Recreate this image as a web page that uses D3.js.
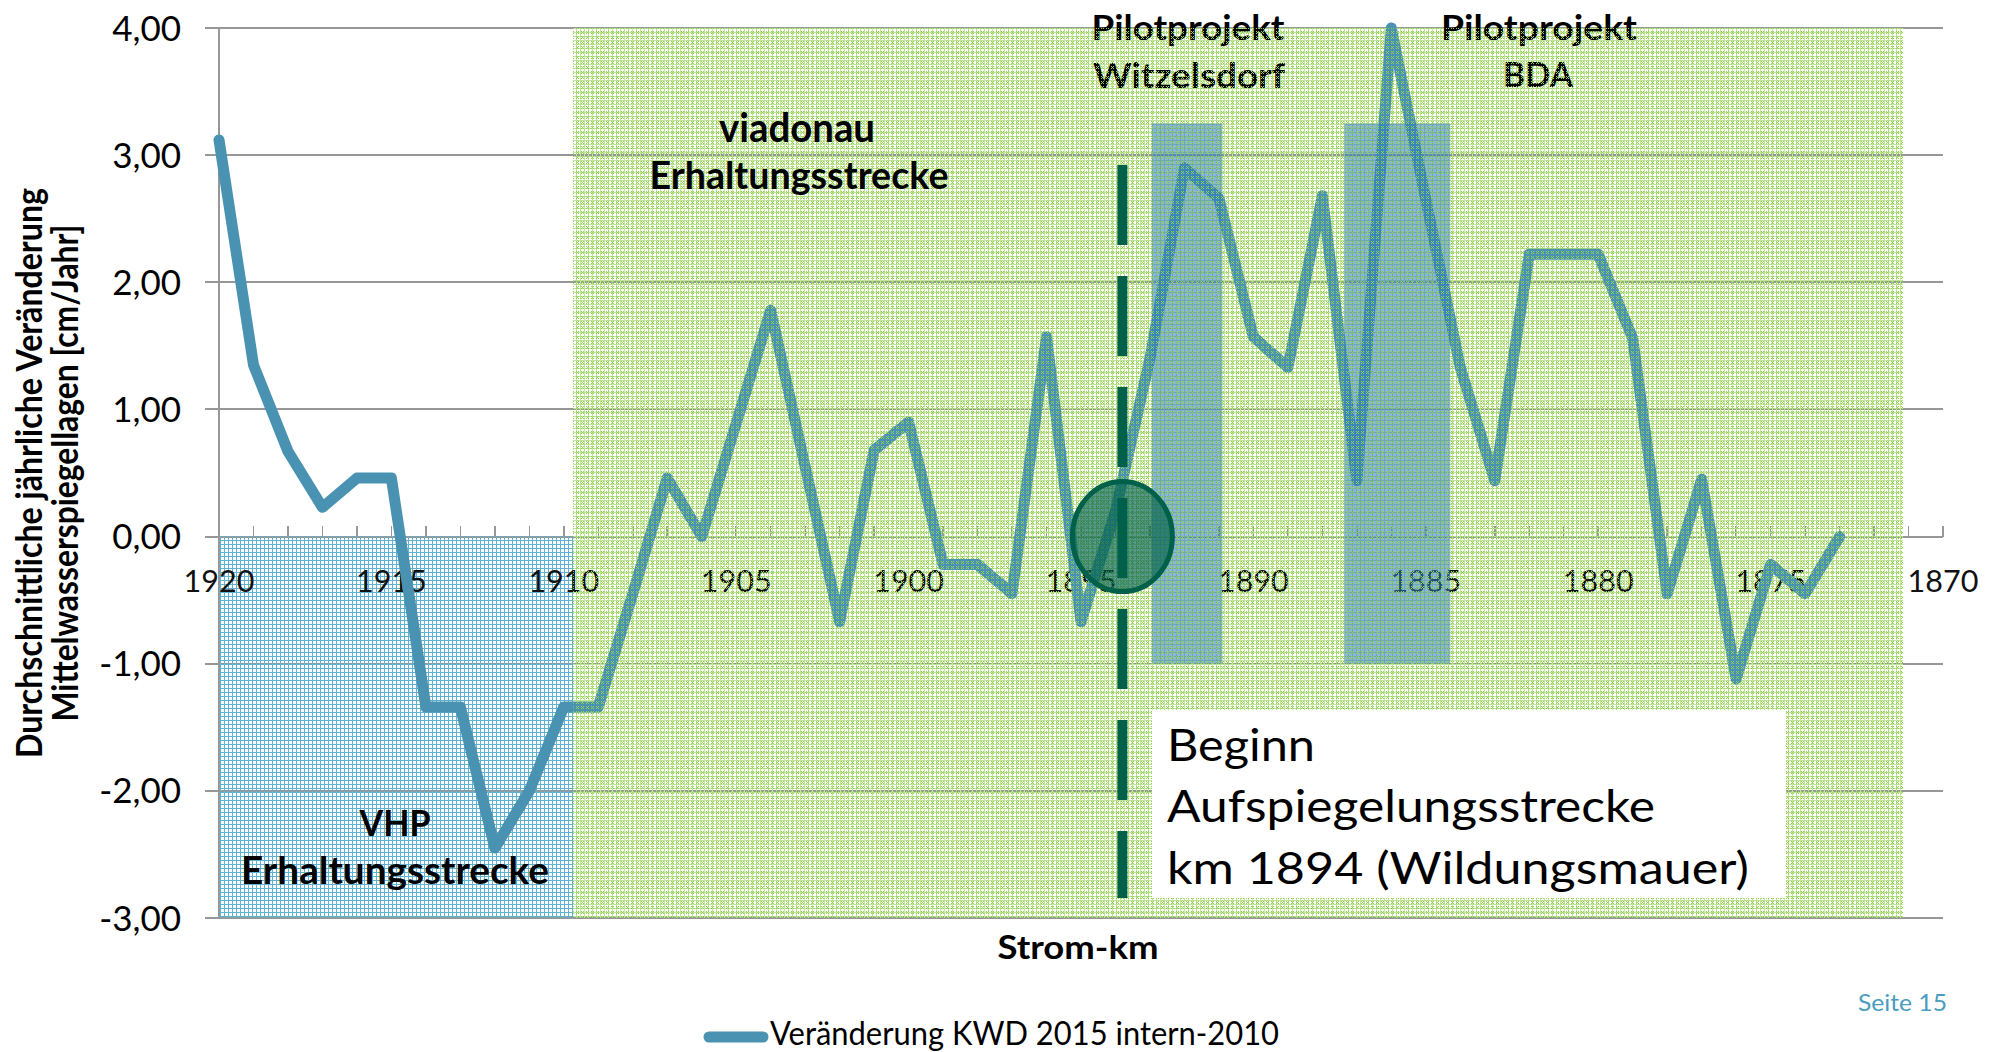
<!DOCTYPE html>
<html><head><meta charset="utf-8">
<script src="https://cdn.jsdelivr.net/npm/d3@7"></script>
<style>html,body{margin:0;padding:0;background:#fff;} svg{display:block;}</style>
</head><body><svg id="chart" width="2000" height="1052"></svg>
<script>
// ---- data ----
const kmValues = [1920,1919,1918,1917,1916,1915,1914,1913,1912,1911,1910,1909,1908,1907,1906,1905,1904,1903,1902,1901,1900,1899,1898,1897,1896,1895,1894,1893,1892,1891,1890,1889,1888,1887,1886,1885,1884,1883,1882,1881,1880,1879,1878,1877,1876,1875,1874,1873];
const changeValues = [3.12,1.35,0.67,0.23,0.46,0.46,-1.34,-1.34,-2.45,-2.0,-1.34,-1.34,-0.45,0.46,0.0,0.89,1.78,0.55,-0.67,0.68,0.9,-0.22,-0.22,-0.45,1.57,-0.67,0.2,1.4,2.9,2.66,1.57,1.33,2.68,0.44,4.0,2.65,1.33,0.44,2.22,2.22,2.22,1.56,-0.45,0.45,-1.12,-0.22,-0.45,0.0];
const xTickLabels = [1920,1915,1910,1905,1900,1895,1890,1885,1880,1875,1870];
const yTickValues = [-3,-2,-1,0,1,2,3,4];
const seriesName = "Veränderung KWD 2015 intern-2010";
const vhpZone = [1920, 1909.73];
const viadonauZone = [1909.73, 1871.16];
const pilotWitzelsdorf = [1892.95, 1890.9];
const pilotBDA = [1887.36, 1884.29];
const pilotValueRange = [-1.0, 3.25];
const markerKm = 1893.8;

const svg = d3.select("#chart");
const x = d3.scaleLinear().domain([1920, 1870]).range([219, 1943]);
const y = d3.scaleLinear().domain([-3, 4]).range([918, 28]);
const FONT = "Lato, Carlito, 'Open Sans', sans-serif";
const GRID = "#979797";

const defs = svg.append("defs");
function gridPattern(id, color) {
  const p = defs.append("pattern").attr("id", id).attr("patternUnits", "userSpaceOnUse")
    .attr("width", 4).attr("height", 4);
  p.append("rect").attr("x", 0).attr("y", 0).attr("width", 4).attr("height", 1).attr("fill", color);
  p.append("rect").attr("x", 0).attr("y", 1).attr("width", 1).attr("height", 3).attr("fill", color);
}
gridPattern("greenPat", "#bee496");
gridPattern("bluePat", "#5fb2d0");
// sparse "x" overlay
const xp = defs.append("pattern").attr("id", "xPat").attr("patternUnits", "userSpaceOnUse")
  .attr("width", 5).attr("height", 5);
[[1,1],[3,1],[2,2],[1,3],[3,3]].forEach(([a, b]) =>
  xp.append("rect").attr("x", a).attr("y", b).attr("width", 1).attr("height", 1).attr("fill", "#92d050"));

function text(g, s, px, py, size, opts = {}) {
  const t = g.append("text").attr("x", px).attr("y", py).text(s)
    .attr("font-family", opts.family || FONT)
    .attr("font-size", size)
    .attr("font-weight", opts.weight || 400)
    .attr("fill", opts.fill || "#000")
    .attr("text-anchor", opts.anchor || "start");
  if (opts.len) t.attr("textLength", opts.len).attr("lengthAdjust", "spacingAndGlyphs");
  return t;
}

// ---- grid & axes ----
const gGrid = svg.append("g").attr("shape-rendering", "crispEdges");
gGrid.selectAll("line.grid").data(yTickValues).join("line")
  .attr("x1", 205).attr("x2", x(1870))
  .attr("y1", d => y(d)).attr("y2", d => y(d))
  .attr("stroke", GRID).attr("stroke-width", 2);
gGrid.append("line").attr("x1", x(1920)).attr("x2", x(1920)).attr("y1", y(4)).attr("y2", y(-3))
  .attr("stroke", GRID).attr("stroke-width", 2);
const kmTicks = d3.range(1920, 1869, -1);
gGrid.selectAll("line.xt").data(kmTicks).join("line")
  .attr("x1", d => x(d)).attr("x2", d => x(d))
  .attr("y1", y(0)).attr("y2", y(0) - 11)
  .attr("stroke", GRID).attr("stroke-width", 1.5);

// white label boxes hiding the top gridline
svg.append("rect").attr("x", 1060).attr("y", 0).attr("width", 255).attr("height", 27).attr("fill", "#fff");
svg.append("rect").attr("x", 1427).attr("y", 0).attr("width", 228).attr("height", 27).attr("fill", "#fff");

// zones (base patterns)
svg.append("rect").attr("x", x(vhpZone[0])).attr("y", y(0))
  .attr("width", x(vhpZone[1]) - x(vhpZone[0])).attr("height", y(-3) - y(0))
  .attr("fill", "url(#bluePat)");
svg.append("rect").attr("x", x(viadonauZone[0])).attr("y", y(4))
  .attr("width", x(viadonauZone[1]) - x(viadonauZone[0])).attr("height", y(-3) - y(4))
  .attr("fill", "url(#greenPat)");

// tick labels
const gLab = svg.append("g");
yTickValues.forEach(v => {
  text(gLab, v.toFixed(2).replace(".", ","), 181, y(v) + 12.5, 35, {anchor: "end"});
});
xTickLabels.forEach(v => {
  text(gLab, String(v), x(v), 592, 30.5, {anchor: "middle", fill: "#111"});
});

// pilot labels
const gPil = svg.append("g");
text(gPil, "Pilotprojekt", 1188, 40, 35, {anchor: "middle", weight: 700, len: 193});
text(gPil, "Witzelsdorf", 1189, 88, 35, {anchor: "middle", weight: 700, len: 192});
text(gPil, "Pilotprojekt", 1539, 40, 35, {anchor: "middle", weight: 700, len: 196});
text(gPil, "BDA", 1538, 87, 35, {anchor: "middle", weight: 700, len: 70});

// data line
const line = d3.line().x((d, i) => x(kmValues[i])).y(d => y(d));
svg.append("path").datum(changeValues).attr("d", line)
  .attr("fill", "none").attr("stroke", "#4a92b2").attr("stroke-width", 11)
  .attr("stroke-linejoin", "round").attr("stroke-linecap", "round");

// pilot project rects
[pilotWitzelsdorf, pilotBDA].forEach(r => {
  svg.append("rect").attr("x", x(r[0])).attr("y", y(pilotValueRange[1]))
    .attr("width", x(r[1]) - x(r[0])).attr("height", y(pilotValueRange[0]) - y(pilotValueRange[1]))
    .attr("fill", "#307cbe").attr("fill-opacity", 0.56);
});

// overlay texture on viadonau zone
svg.append("rect").attr("x", x(viadonauZone[0])).attr("y", y(4))
  .attr("width", x(viadonauZone[1]) - x(viadonauZone[0])).attr("height", y(-3) - y(4))
  .attr("fill", "url(#xPat)");

// annotation texts over the pattern
const gAnn = svg.append("g");
text(gAnn, "viadonau", 797, 142, 40, {anchor: "middle", weight: 700, len: 156});
text(gAnn, "Erhaltungsstrecke", 799, 189, 38, {anchor: "middle", weight: 700, len: 299});
text(gAnn, "VHP", 395, 836, 37, {anchor: "middle", weight: 700, len: 71});
text(gAnn, "Erhaltungsstrecke", 395, 884, 38, {anchor: "middle", weight: 700, len: 308});

// circle + dashed marker
svg.append("ellipse").attr("cx", x(markerKm)).attr("cy", y(0)).attr("rx", 50).attr("ry", 55)
  .attr("fill", "#00604a").attr("fill-opacity", 0.66)
  .attr("stroke", "#00604a").attr("stroke-width", 5);
svg.append("line").attr("x1", x(markerKm)).attr("x2", x(markerKm))
  .attr("y1", 165).attr("y2", 898)
  .attr("stroke", "#00604a").attr("stroke-width", 10).attr("stroke-dasharray", "80 31");

// big white annotation box
svg.append("rect").attr("x", 1152).attr("y", 710).attr("width", 634).attr("height", 188).attr("fill", "#fff");
const gBox = svg.append("g");
text(gBox, "Beginn", 1167, 761, 44, {len: 148});
text(gBox, "Aufspiegelungsstrecke", 1167, 822, 44, {len: 488});
text(gBox, "km 1894 (Wildungsmauer)", 1167, 884, 44, {len: 582});

// axis titles
text(gBox, "Strom-km", 1078, 959, 32, {anchor: "middle", weight: 700, len: 161});
const yt = svg.append("g").attr("transform", "translate(0,473) rotate(-90)");
text(yt, "Durchschnittliche jährliche Veränderung", 0, 42, 36, {anchor: "middle", weight: 700, len: 570});
text(yt, "Mittelwasserspiegellagen [cm/Jahr]", 0, 78, 36, {anchor: "middle", weight: 700, len: 497});

// legend
svg.append("line").attr("x1", 709).attr("x2", 763).attr("y1", 1037).attr("y2", 1037)
  .attr("stroke", "#4a92b2").attr("stroke-width", 11).attr("stroke-linecap", "round");
text(gBox, seriesName, 770, 1045, 33, {len: 509});

// page footer
text(gBox, "Seite 15", 1947, 1011, 23, {anchor: "end", fill: "#4a9cc0", len: 89});
</script></body></html>
